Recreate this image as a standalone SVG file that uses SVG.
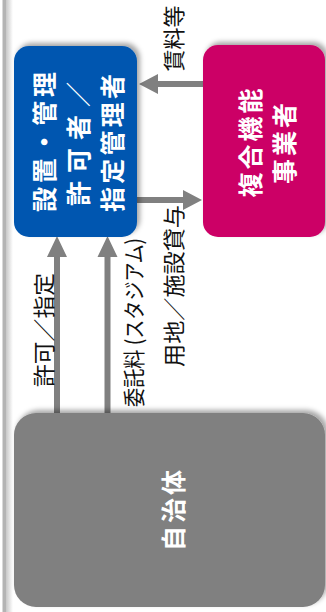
<svg xmlns="http://www.w3.org/2000/svg" width="326" height="612" viewBox="0 0 326 612">
<defs>
<style>
.lbl{font-family:"Noto Sans CJK JP","Noto Sans",sans-serif;font-size:22px;fill:#111}
.nt{font-family:"Noto Sans CJK JP","Noto Sans",sans-serif;font-size:25px;font-weight:bold;fill:#fff}
.arr{fill:#808080}
</style>
<filter id="sh" x="-10%" y="-10%" width="120%" height="120%">
<feDropShadow dx="3" dy="-3" stdDeviation="2.5" flood-color="#000" flood-opacity="0.35"/>
</filter>
<linearGradient id="bd" x1="0" x2="1" y1="0" y2="0">
<stop offset="0" stop-color="#c8c8c8"/>
<stop offset="1" stop-color="#ffffff"/>
</linearGradient>
</defs>
<rect width="326" height="612" fill="#fff"/>
<rect x="6" y="0" width="7" height="612" fill="url(#bd)"/>
<rect x="2.5" y="0" width="3.5" height="612" fill="#b4b4b4"/>

<g id="connectors">
<polygon class="arr" points="203,81 158,81 158,74 139,84 158,94 158,87 203,87"/>
<polygon class="arr" points="137,197 183,197 183,190 202,200 183,210 183,203 137,203"/>
<polygon class="arr" points="54,413 54,257 47,257 57,236 67,257 60,257 60,413"/>
<polygon class="arr" points="104.5,413 104.5,257 97.5,257 107.5,236 117.5,257 110.5,257 110.5,413"/>
<text class="lbl" transform="translate(172,38.5) rotate(-90)" text-anchor="middle" dominant-baseline="central">賃料等</text>
<text class="lbl" transform="translate(172,367) rotate(-90)" dominant-baseline="central" textLength="162" lengthAdjust="spacingAndGlyphs">用地／施設貸与</text>
<text class="lbl" transform="translate(42,387) rotate(-90)" dominant-baseline="central" textLength="114" lengthAdjust="spacingAndGlyphs">許可／指定</text>
<text class="lbl" transform="translate(132,407) rotate(-90)" dominant-baseline="central" textLength="169" lengthAdjust="spacingAndGlyphs">委託料 (スタジアム)</text>
</g>

<g id="node-blue">
<rect x="14" y="46" width="123" height="191" rx="15" fill="#0057B0" filter="url(#sh)"/>
<text class="nt" transform="translate(43,212) rotate(-90)" dominant-baseline="central" textLength="140" lengthAdjust="spacing">設置・管理</text>
<text class="nt" transform="translate(77,206) rotate(-90)" dominant-baseline="central" textLength="124" lengthAdjust="spacing">許可者／</text>
<text class="nt" transform="translate(111,212) rotate(-90)" dominant-baseline="central" textLength="138" lengthAdjust="spacing">指定管理者</text>
</g>

<g id="node-magenta">
<rect x="203" y="45" width="122" height="192" rx="15" fill="#CC0066" filter="url(#sh)"/>
<text class="nt" transform="translate(249,141.5) rotate(-90)" text-anchor="middle" dominant-baseline="central" letter-spacing="3">複合機能</text>
<text class="nt" transform="translate(283,142) rotate(-90)" text-anchor="middle" dominant-baseline="central" letter-spacing="3">事業者</text>
</g>

<g id="node-gray">
<rect x="14" y="413" width="311" height="194" rx="22" fill="#808080" filter="url(#sh)"/>
<text class="nt" transform="translate(171.5,509) rotate(-90)" text-anchor="middle" dominant-baseline="central" letter-spacing="3">自治体</text>
</g>
</svg>
